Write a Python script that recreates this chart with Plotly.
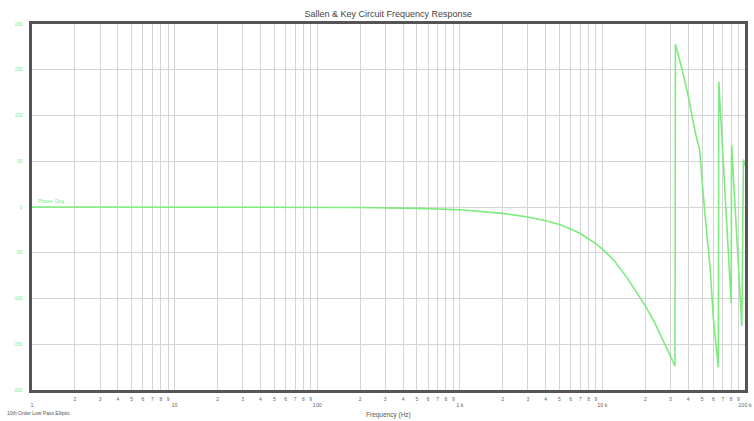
import plotly.graph_objects as go

# Phase response of a 10th order low pass elliptic Sallen & Key filter (degrees)
freq_hz = [1, 10, 100, 200, 500, 1000, 2000, 3000, 4000, 5000, 6000, 7000, 8000, 9000,
           10000, 12000, 15000, 18000, 20000, 23000, 26000, 29000, 32300,
           32500, 36000, 40000, 45000, 48000, 52000, 55000, 57000, 60000, 65000,
           65500, 68000, 71000, 74000, 77000, 80000,
           80500, 84000, 88000, 92000, 95000,
           97500, 100000]
phase_deg = [0, 0, 0, -0.5, -1.5, -3, -7, -11, -15, -19, -24, -29, -35, -40,
             -46, -58, -78, -97, -108, -125, -142, -158, -174,
             178, 152, 121, 80, 63, -2, -40, -68, -122, -175,
             137, 90, 40, -10, -60, -105,
             68, 20, -40, -95, -130,
             52, 45]

y_ticks = [200, 150, 100, 50, 0, -50, -100, -150, -200]
decades = [1, 10, 100, 1000, 10000, 100000]
decade_labels = ["1", "10", "100", "1 k", "10 k", "100 k"]

# Minor ticks 1..9 in every decade; decade positions carry no minor label
minor_vals, minor_text = [], []
for d in decades[:-1]:
    for m in range(1, 10):
        minor_vals.append(d * m)
        minor_text.append("" if m == 1 else str(m))
minor_vals.append(decades[-1])
minor_text.append("")

GREEN = "#7cec7c"
FONT = "Liberation Sans, Arial, sans-serif"

fig = go.Figure()
fig.add_trace(go.Scatter(x=freq_hz, y=phase_deg, mode="lines",
                         line=dict(color=GREEN, width=1.6), showlegend=False,
                         hoverinfo="skip"))
# carrier trace for the decade label axis
fig.add_trace(go.Scatter(x=[decades[0], decades[-1]], y=[0, 0], xaxis="x2",
                         mode="lines", line=dict(width=0), opacity=0,
                         showlegend=False, hoverinfo="skip"))

fig.update_layout(
    width=754, height=421,
    margin=dict(l=32, r=9, t=24, b=31, autoexpand=False),
    paper_bgcolor="white", plot_bgcolor="white",
    title=dict(text="Sallen &amp; Key Circuit Frequency Response",
               x=0.515, xanchor="center", y=0.975, yanchor="top",
               font=dict(family=FONT, size=9, color="#444")),
    xaxis=dict(type="log", range=[0, 5], tickmode="array",
               tickvals=minor_vals, ticktext=minor_text, automargin=False,
               showgrid=True, gridcolor="#d4d4d4", gridwidth=1,
               showline=True, linecolor="#555", linewidth=2.5, mirror=True,
               ticks="", tickfont=dict(family=FONT, size=5, color="#666"),
               ticklabelstandoff=2, zeroline=False),
    xaxis2=dict(type="log", range=[0, 5], overlaying="x", anchor="y", side="bottom",
                tickmode="array", tickvals=decades, ticktext=decade_labels,
                automargin=False,
                showgrid=False, showline=False, ticks="", zeroline=False,
                tickfont=dict(family=FONT, size=5.5, color="#666"),
                ticklabelstandoff=10),
    yaxis=dict(range=[-200, 200], tickmode="array", tickvals=y_ticks,
               ticktext=[str(v) for v in y_ticks], automargin=False,
               showgrid=True, gridcolor="#d4d4d4", gridwidth=1,
               showline=True, linecolor="#555", linewidth=2.5, mirror=True,
               ticks="", tickfont=dict(family=FONT, size=4.5, color=GREEN),
               ticklabelstandoff=6, zeroline=False),
    annotations=[
        dict(text="Frequency (Hz)", xref="paper", yref="paper", x=0.5, y=-0.052,
             xanchor="center", yanchor="top", showarrow=False,
             font=dict(family=FONT, size=6.5, color="#555")),
        dict(text="10th Order Low Pass Elliptic", xref="paper", yref="paper",
             x=-0.038, y=-0.05, xanchor="left", yanchor="top", showarrow=False,
             font=dict(family=FONT, size=5, color="#555")),
        dict(text="Phase: Deg", xref="paper", yref="y", x=0.006, y=phase_deg[0],
             xanchor="left", yanchor="bottom", yshift=1, showarrow=False,
             font=dict(family=FONT, size=5, color=GREEN)),
    ],
)

fig.write_html("out.html")
